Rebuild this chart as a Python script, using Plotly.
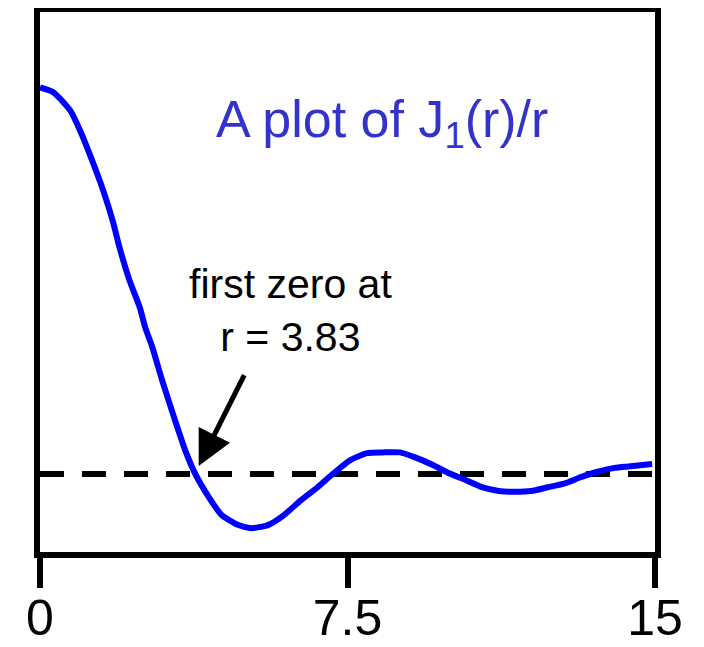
import plotly.graph_objects as go

# Values
r_values = [0.0, 0.33, 0.74, 0.98, 1.24, 1.48, 1.77, 1.94, 2.18, 2.43, 2.57, 2.74, 2.98,
            3.29, 3.54, 3.78, 4.12, 4.43, 4.84, 5.15, 5.56, 5.95, 6.36, 6.77, 7.16,
            7.57, 7.98, 8.36, 8.77, 9.18, 9.57, 9.98, 10.39, 10.78, 11.19, 11.60,
            11.98, 12.39, 12.80, 13.19, 13.60, 14.01, 14.40, 14.93]
j1_over_r = [0.500, 0.4935, 0.470, 0.444, 0.410, 0.376, 0.328, 0.293, 0.251, 0.216, 0.189,
             0.164, 0.121, 0.070, 0.031, 0.001, -0.030, -0.053, -0.066, -0.070, -0.066,
             -0.053, -0.034, -0.017, 0.001, 0.018, 0.027, 0.028, 0.028, 0.021, 0.012,
             0.001, -0.008, -0.017, -0.022, -0.023, -0.022, -0.017, -0.012, -0.004,
             0.003, 0.008, 0.010, 0.013]
zero_line_x = [0, 15]
zero_line_y = [0, 0]
tick_vals = [0, 7.5, 15]
tick_text = ["0", "7.5", "15"]
first_zero = 3.83

FONT = "Liberation Sans, Arial, sans-serif"

fig = go.Figure()
fig.add_trace(go.Scatter(x=zero_line_x, y=zero_line_y, mode="lines",
                         line=dict(color="black", width=6, dash="24px,18px"),
                         hoverinfo="skip", showlegend=False))
fig.add_trace(go.Scatter(x=r_values, y=j1_over_r, mode="lines",
                         line=dict(color="#0000FF", width=6, shape="spline", smoothing=0.6),
                         showlegend=False))

fig.add_annotation(x=8.34, y=0.454, xref="x", yref="y",
                   text="A plot of J<sub>1</sub>(r)/r", showarrow=False,
                   font=dict(family=FONT, size=52, color="#3333CC"),
                   xanchor="center", yanchor="middle")
fig.add_annotation(x=6.1, y=0.212, xref="x", yref="y",
                   text="first zero at<br>r = " + f"{first_zero:.2f}", showarrow=False,
                   font=dict(family=FONT, size=41, color="black"),
                   xanchor="center", yanchor="middle", align="center")
fig.add_annotation(x=3.87, y=0.0103, xref="x", yref="y",
                   ax=5.0, ay=0.130, axref="x", ayref="y",
                   text="", showarrow=True, arrowhead=2, arrowsize=1.4,
                   arrowwidth=5, arrowcolor="black", standoff=0)

fig.update_xaxes(range=[0, 15], showgrid=False, zeroline=False, automargin=False,
                 showline=True, linewidth=6, linecolor="black", mirror=True,
                 tickmode="array", tickvals=tick_vals, ticktext=tick_text,
                 ticks="outside", ticklen=30, tickwidth=6, tickcolor="black",
                 ticklabelstandoff=-13,
                 tickfont=dict(family=FONT, size=50, color="black"))
fig.update_yaxes(range=[-0.1008, 0.5976], showgrid=False, zeroline=False, automargin=False,
                 showline=True, linewidth=6, linecolor="black", mirror=True,
                 showticklabels=False, ticks="")

# the page body adds an 8px offset, so the figure is 8px smaller than the window
fig.update_layout(width=696, height=639, autosize=False,
                  margin=dict(l=31.5, r=49, t=3.5, b=95, pad=0),
                  plot_bgcolor="white", paper_bgcolor="white",
                  font=dict(family=FONT))

fig.write_html("out.html")
